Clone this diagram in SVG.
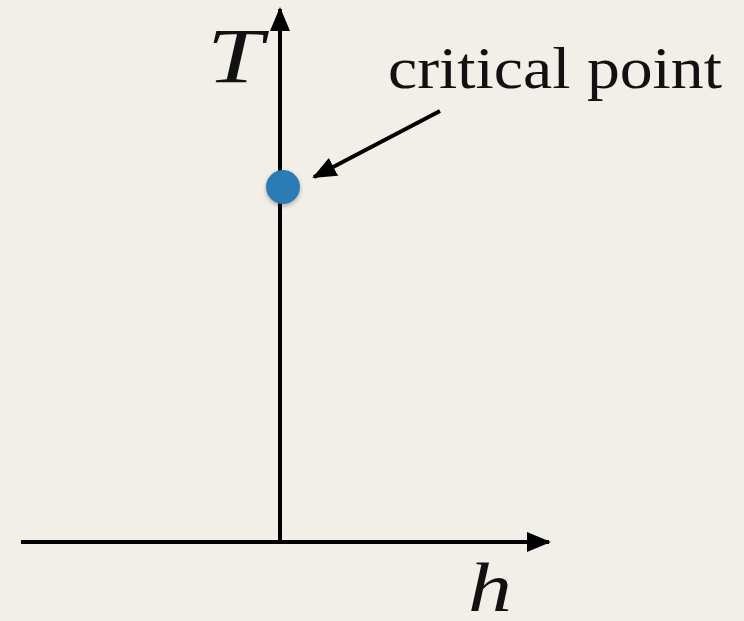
<svg xmlns="http://www.w3.org/2000/svg" width="744" height="621" viewBox="0 0 744 621">
<style>
.ax{stroke:#000;stroke-width:4;fill:none}
.lbl{font-family:"Liberation Serif","DejaVu Serif",serif;fill:#111}
.it{font-style:italic}
</style>
<defs>
<marker id="ah" markerWidth="6" markerHeight="5" refX="5.5" refY="2.5" orient="auto" markerUnits="strokeWidth"><path d="M0,0 L6,2.5 L0,5 Z" fill="#000"/></marker>
<filter id="sh" x="-50%" y="-50%" width="200%" height="200%"><feDropShadow dx="0" dy="2" stdDeviation="2" flood-opacity="0.3"/></filter>
</defs>
<rect width="744" height="621" fill="#f2efe9"/>
<g id="connectors">
<line class="ax" x1="280" y1="541" x2="280" y2="9" marker-end="url(#ah)"/>
<line class="ax" x1="21" y1="542" x2="549" y2="542" marker-end="url(#ah)"/>
<line class="ax" x1="440" y1="111" x2="314" y2="177" marker-end="url(#ah)"/>
</g>
<g id="critical-point">
<circle cx="283" cy="187" r="17" fill="#2b7bb2" filter="url(#sh)"/>
</g>
<g id="label-T"><text class="lbl it" x="207" y="82" font-size="78" textLength="56" lengthAdjust="spacingAndGlyphs">T</text></g>
<g id="label-cp"><text class="lbl" x="388" y="88" font-size="60" textLength="334" lengthAdjust="spacingAndGlyphs">critical point</text></g>
<g id="label-h"><text class="lbl it" x="468" y="611" font-size="70" textLength="44" lengthAdjust="spacingAndGlyphs">h</text></g>
</svg>
